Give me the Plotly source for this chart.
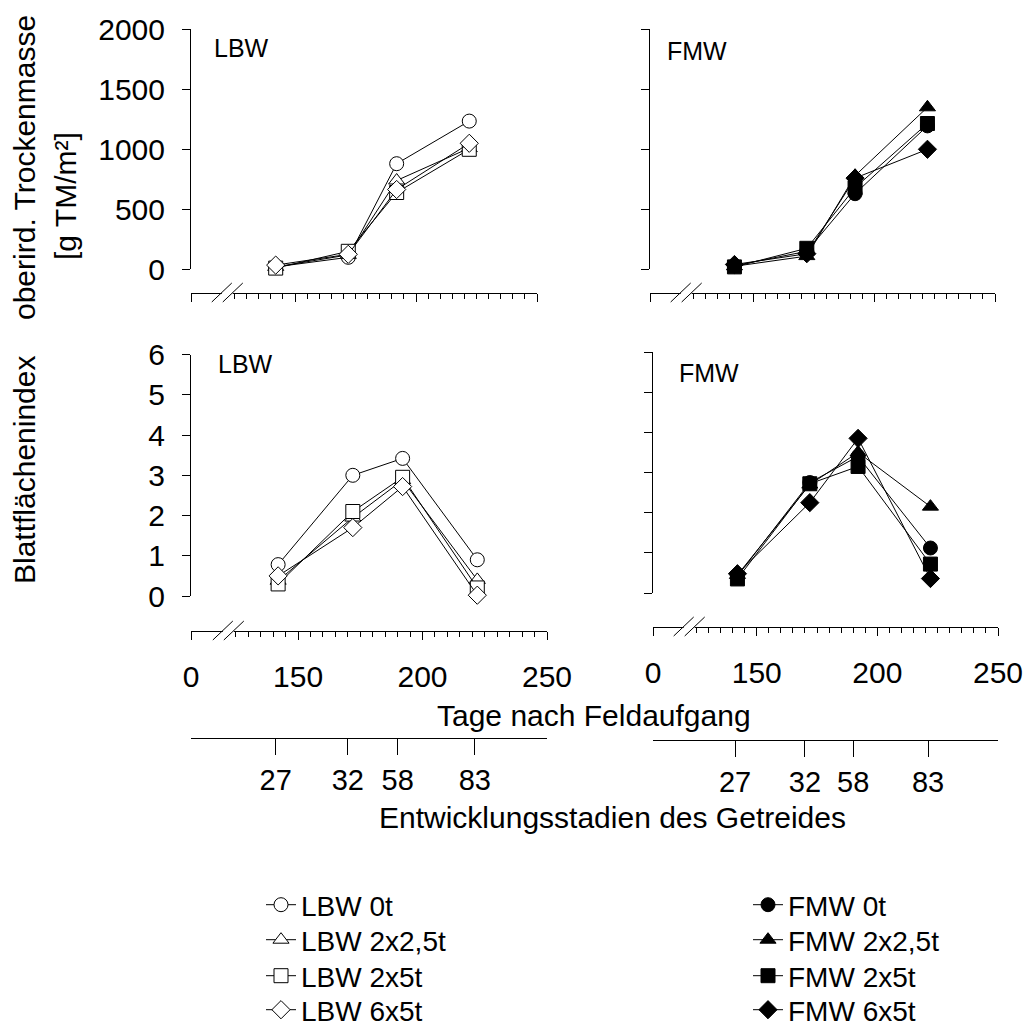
import plotly.graph_objects as go

W, H = 1026, 1029

# ---------------- data ----------------
days = [142, 172, 192, 222]
treatments = ["0t", "2x2,5t", "2x5t", "6x5t"]
symbols = ["circle", "triangle-up", "square", "diamond"]

lbw_tm_0t = [20, 100, 880, 1235]
lbw_tm_2x25 = [20, 120, 740, 1010]
lbw_tm_2x5 = [10, 150, 640, 1000]
lbw_tm_6x5 = [35, 125, 665, 1050]

fmw_tm_0t = [30, 150, 630, 1195]
fmw_tm_2x25 = [25, 110, 780, 1350]
fmw_tm_2x5 = [20, 175, 680, 1215]
fmw_tm_6x5 = [40, 130, 760, 1000]

lbw_lai_0t = [0.78, 3.0, 3.42, 0.9]
lbw_lai_2x25 = [0.38, 1.95, 2.88, 0.4]
lbw_lai_2x5 = [0.3, 2.1, 2.95, 0.2]
lbw_lai_6x5 = [0.5, 1.7, 2.72, 0.02]

fmw_lai_0t = [0.42, 2.75, 3.4, 1.12]
fmw_lai_2x25 = [0.45, 2.7, 3.5, 2.15]
fmw_lai_2x5 = [0.35, 2.72, 3.15, 0.72]
fmw_lai_6x5 = [0.48, 2.25, 3.85, 0.36]

tm_ticks = [0, 500, 1000, 1500, 2000]
lai_ticks = [0, 1, 2, 3, 4, 5, 6]
day_ticks = [150, 200, 250]
day_axis_start = 107          # broken axis: left end labelled "0"
day_break = 122
stage_labels = ["27", "32", "58", "83"]
stage_pos = [141, 170, 190, 221]

# ---------------- helpers ----------------
def fx(px):
    return px / W

def fy(py):
    return 1 - py / H

FONT = "Liberation Sans, Arial, sans-serif"

fig = go.Figure()

panels = [
    ("LBW", "x", "y", [lbw_tm_0t, lbw_tm_2x25, lbw_tm_2x5, lbw_tm_6x5], False, 1, True),
    ("FMW", "x2", "y2", [fmw_tm_0t, fmw_tm_2x25, fmw_tm_2x5, fmw_tm_6x5], True, 5, True),
    ("LBW", "x3", "y3", [lbw_lai_0t, lbw_lai_2x25, lbw_lai_2x5, lbw_lai_6x5], False, 1, False),
    ("FMW", "x4", "y4", [fmw_lai_0t, fmw_lai_2x25, fmw_lai_2x5, fmw_lai_6x5], True, 5, False),
]

for name, xa, ya, series, filled, leg0, showleg in panels:
    for k, (tr, sym, vals) in enumerate(zip(treatments, symbols, series)):
        lid = leg0 + k
        fig.add_trace(go.Scatter(
            x=days, y=vals, xaxis=xa, yaxis=ya,
            mode="lines+markers",
            name=f"{name} {tr}",
            line=dict(color="black", width=1),
            marker=dict(symbol=sym, size=14,
                        color="black" if filled else "white",
                        line=dict(color="black", width=1)),
            cliponaxis=False,
            showlegend=showleg,
            legend="legend" if lid == 1 else f"legend{lid}",
        ))

# invisible traces for the stage axes
fig.add_trace(go.Scatter(x=[], y=[], xaxis="x5", yaxis="y5", showlegend=False))
fig.add_trace(go.Scatter(x=[], y=[], xaxis="x6", yaxis="y6", showlegend=False))

# panel geometry in pixels: (x0, x1, ytop, ybottom, xaxis line y)
geo = {
    1: (191, 537, 29.3, 269.3, 293),
    2: (650, 995, 29.3, 269.3, 293),
    3: (191, 547, 354.6, 596, 631),
    4: (653, 998, 352, 593, 627),
}

axis_common = dict(showline=True, linecolor="black", linewidth=1,
                   ticks="outside", tickcolor="black", tickwidth=1,
                   showgrid=False, zeroline=False,
                   tickfont=dict(family=FONT, size=30, color="black"))

layout = dict(width=W, height=H, template="none",
              margin=dict(l=0, r=0, t=0, b=0, autoexpand=False),
              paper_bgcolor="white", plot_bgcolor="rgba(0,0,0,0)",
              font=dict(family=FONT, color="black"))

for i, (x0, x1, yt, yb, xl) in geo.items():
    sx = "" if i == 1 else str(i)
    bottom = i in (3, 4)
    layout["xaxis" + sx] = dict(
        axis_common, domain=[fx(x0), fx(x1)], range=[day_axis_start, 250],
        anchor="free", position=fy(xl),
        tickmode="array", tickvals=[day_axis_start] + day_ticks,
        ticktext=["0"] + [str(t) for t in day_ticks],
        showticklabels=bottom, ticklen=8, ticklabelstandoff=11,
        minor=dict(tickmode="array", tickvals=list(range(125, 251, 5)),
                   ticks="outside", ticklen=5, tickcolor="black", tickwidth=1),
    )
    top = i in (1, 2)
    layout["yaxis" + sx] = dict(
        axis_common, domain=[fy(yb), fy(yt)],
        range=[0, 2000] if top else [0, 6],
        tickmode="array", tickvals=tm_ticks if top else lai_ticks,
        anchor="x" + sx, ticklen=8, ticklabelstandoff=11,
        showticklabels=i in (1, 3),
    )

# stage axes
for sx, (x0, x1, yl) in {"5": (191, 547, 738), "6": (653, 998, 740)}.items():
    layout["xaxis" + sx] = dict(
        axis_common, domain=[fx(x0), fx(x1)], range=[day_axis_start, 250],
        anchor="y" + sx, tickmode="array", tickvals=stage_pos, ticktext=stage_labels,
        ticklen=16, ticklabelstandoff=0,
        tickfont=dict(family=FONT, size=29, color="black"),
    )
    layout["yaxis" + sx] = dict(domain=[fy(yl), fy(yl) + 0.01], visible=False,
                                anchor="x" + sx)

fig.update_layout(**layout)

# broken-axis marks
shapes = []
for i, (x0, x1, yt, yb, xl) in geo.items():
    sx = "" if i == 1 else str(i)
    pxu = (x1 - x0) / (250 - day_axis_start)
    d = 5.5 / pxu
    shapes.append(dict(type="rect", xref="x" + sx, yref="paper",
                       x0=day_break - d, x1=day_break + d,
                       y0=fy(xl + 3), y1=fy(xl - 3),
                       fillcolor="white", line=dict(width=0), layer="above"))
    for off in (-d, d):
        shapes.append(dict(type="line", xref="x" + sx, yref="paper",
                           x0=day_break + off - 10 / pxu, x1=day_break + off + 10 / pxu,
                           y0=fy(xl + 9), y1=fy(xl - 10),
                           line=dict(color="black", width=1), layer="above"))
fig.update_layout(shapes=shapes)

# annotations
ann = [
    dict(text="LBW", x=fx(212), y=fy(48), xanchor="left", size=25),
    dict(text="FMW", x=fx(665), y=fy(51), xanchor="left", size=25),
    dict(text="LBW", x=fx(216), y=fy(364), xanchor="left", size=25),
    dict(text="FMW", x=fx(677), y=fy(373), xanchor="left", size=25),
    dict(text="Tage nach Feldaufgang", x=fx(594), y=fy(715), xanchor="center", size=30),
    dict(text="Entwicklungsstadien des Getreides", x=fx(612), y=fy(817), xanchor="center", size=30),
    dict(text="oberird. Trockenmasse", x=fx(25), y=fy(168), xanchor="center", size=30, angle=-90),
    dict(text="[g TM/m²]", x=fx(65), y=fy(196), xanchor="center", size=30, angle=-90),
    dict(text="Blattflächenindex", x=fx(24), y=fy(470), xanchor="center", size=30, angle=-90),
]
for a in ann:
    fig.add_annotation(text=a["text"], x=a["x"], y=a["y"], xref="paper", yref="paper",
                       xanchor=a["xanchor"], yanchor="middle", showarrow=False,
                       textangle=a.get("angle", 0),
                       font=dict(family=FONT, size=a["size"], color="black"))

# one single-entry legend per row, so that rows sit at the reference spacing
legend_rows = [905, 940, 976, 1010]
legend_common = dict(xanchor="left", yanchor="middle", bgcolor="rgba(0,0,0,0)",
                     font=dict(family=FONT, size=28, color="black"),
                     tracegroupgap=0, itemsizing="trace")
leg_layout = {}
for k, ry in enumerate(legend_rows):
    for base, lx in ((1, 261), (5, 748)):
        lid = base + k
        key = "legend" if lid == 1 else f"legend{lid}"
        leg_layout[key] = dict(legend_common, x=fx(lx), y=fy(ry))
fig.update_layout(**leg_layout)

fig.write_html("out.html")
